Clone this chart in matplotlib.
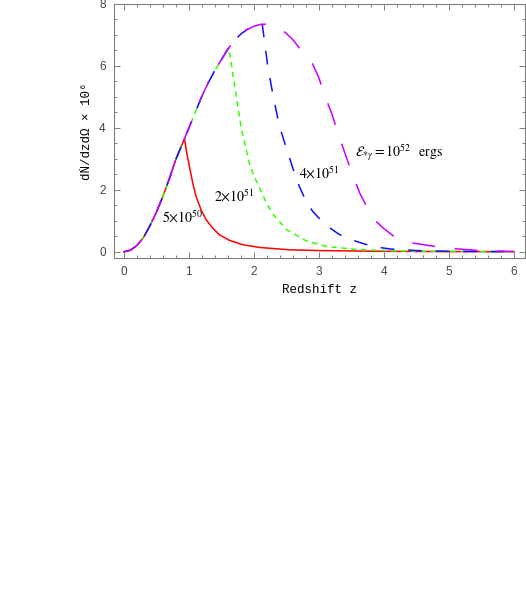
import matplotlib
matplotlib.use("Agg")
import matplotlib.pyplot as plt
from matplotlib.ticker import MultipleLocator

# ---- data ----
# common rising branch (shared by all curves), then each curve's fall
z_common = [0.0, 0.1, 0.2, 0.3, 0.4, 0.5, 0.6, 0.7, 0.8, 0.9, 1.0, 1.1, 1.2, 1.3,
            1.4, 1.5, 1.6, 1.7, 1.8, 1.9, 2.0, 2.1]
y_common = [0.0, 0.05, 0.2, 0.45, 0.83, 1.27, 1.78, 2.35, 2.98, 3.48, 3.99, 4.5,
            5.02, 5.46, 5.85, 6.2, 6.54, 6.81, 7.03, 7.18, 7.28, 7.34]

z_red = [0.934, 0.97, 1.01, 1.062, 1.113, 1.19, 1.268, 1.37, 1.47, 1.626, 1.83, 2.09,
         2.55, 3.0, 4.0, 5.0, 6.0]
y_red = [3.65, 3.18, 2.75, 2.21, 1.78, 1.35, 1.03, 0.76, 0.55, 0.37, 0.23, 0.14,
         0.065, 0.04, 0.015, 0.007, 0.003]

z_green = [1.615, 1.70, 1.806, 1.93, 2.0, 2.09, 2.2, 2.3, 2.5, 2.8, 3.1, 3.6, 4.2, 6.0]
y_green = [6.59, 5.44, 3.99, 2.86, 2.45, 2.06, 1.55, 1.2, 0.72, 0.36, 0.18, 0.07, 0.025,
           0.003]

z_blue = [2.13, 2.215, 2.3, 2.395, 2.5, 2.6, 2.7, 2.8, 2.9, 3.0, 3.15, 3.3, 3.45, 3.63,
          3.83, 4.1, 4.5, 5.0, 6.0]
y_blue = [7.34, 5.98, 5.0, 4.05, 3.35, 2.7, 2.11, 1.65, 1.32, 1.09, 0.8, 0.58, 0.43,
          0.3, 0.17, 0.09, 0.04, 0.015, 0.005]

z_mag = [2.2, 2.3, 2.4, 2.5, 2.6, 2.7, 2.8, 2.9, 3.0, 3.1, 3.2, 3.3, 3.42, 3.5, 3.63,
         3.75, 3.88, 4.0, 4.19, 4.45, 4.96, 5.47, 6.0]
y_mag = [7.35, 7.31, 7.21, 7.05, 6.85, 6.58, 6.32, 6.08, 5.62, 5.0, 4.45, 3.8, 3.07,
         2.6, 1.89, 1.4, 0.98, 0.75, 0.44, 0.28, 0.12, 0.04, 0.01]

labels = [r"$5{\times}10^{50}$", r"$2{\times}10^{51}$", r"$4{\times}10^{51}$",
          r"$\mathcal{E}_{*\gamma} = 10^{52}\;\;\;\mathrm{ergs}$"]
label_pos = [(0.59, 1.1), (1.395, 1.78), (2.69, 2.52), (3.55, 3.18)]

x_ticks = [0, 1, 2, 3, 4, 5, 6]
y_ticks = [0, 2, 4, 6, 8]


def series(z_fall, y_fall):
    zs = [z for z in z_common if z < z_fall[0]]
    ys = y_common[:len(zs)]
    return zs + list(z_fall), ys + list(y_fall)


fig = plt.figure(figsize=(5.26, 5.97), dpi=100)
ax = fig.add_axes([114 / 526, 1 - 258 / 597, 411 / 526, 254 / 597])

styles = [
    dict(color="#ff0000", linestyle="-"),
    dict(color="#33ff00", linestyle=(0, (3.6, 2.9))),
    dict(color="#1010ff", linestyle=(0, (9, 9))),
    dict(color="#cc00ff", linestyle=(0, (15, 13))),
]
falls = [(z_red, y_red), (z_green, y_green), (z_blue, y_blue), (z_mag, y_mag)]
for (zf, yf), st in zip(falls, styles):
    zs, ys = series(zf, yf)
    ax.plot(zs, ys, lw=1.1, solid_joinstyle="round", dash_joinstyle="round", **st)

for lab, (x, y) in zip(labels, label_pos):
    ax.text(x, y, lab, fontsize=10, math_fontfamily="stix", ha="left", va="center")

ax.set_xlim(-0.15, 6.17)
ax.set_ylim(-0.2, 8.0)
ax.set_xticks(x_ticks)
ax.set_yticks(y_ticks)
ax.xaxis.set_minor_locator(MultipleLocator(0.2))
ax.yaxis.set_minor_locator(MultipleLocator(0.5))
ax.tick_params(which="both", direction="in", top=True, right=True, color="#808080",
               width=0.7)
ax.tick_params(which="major", length=4, pad=6, labelsize=8.5, labelcolor="#444444")
ax.tick_params(which="minor", length=2.2)
for lab in ax.get_xticklabels() + ax.get_yticklabels():
    lab.set_family(["Liberation Sans", "DejaVu Sans"])
for sp in ax.spines.values():
    sp.set_color("#808080")
    sp.set_linewidth(0.8)

ax.set_xlabel("Redshift z", family=["Liberation Mono", "DejaVu Sans Mono"],
              fontsize=9, labelpad=4)
ax.set_ylabel("dṄ/dzdΩ × 10⁶", family=["Liberation Mono", "DejaVu Sans Mono"],
              fontsize=9, labelpad=4)

fig.savefig("out.png", dpi=100)
